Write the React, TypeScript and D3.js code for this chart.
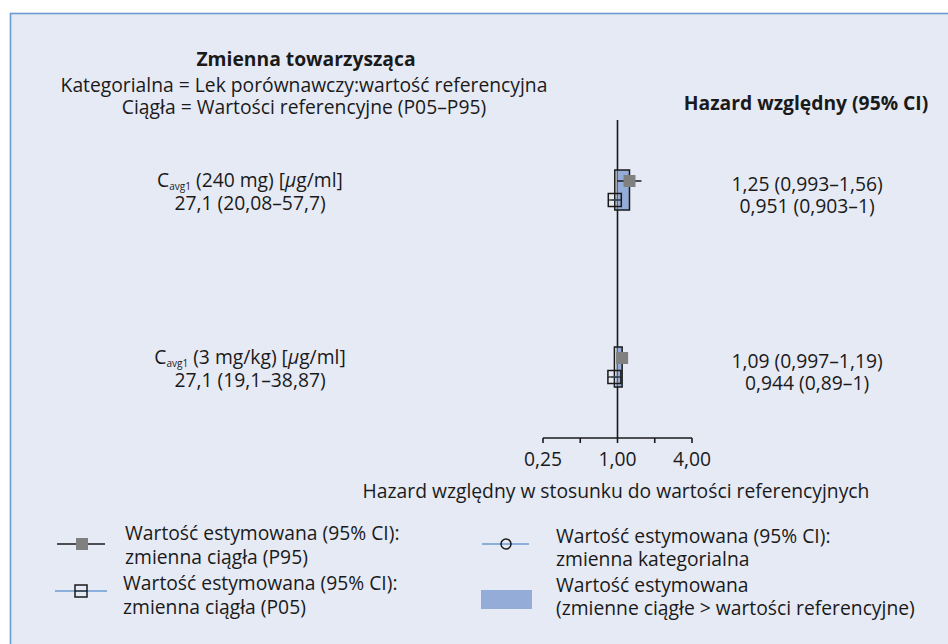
import React from "react";
import * as d3 from "d3";

const covariates = ["C_avg1 (240 mg) [µg/ml]", "C_avg1 (3 mg/kg) [µg/ml]"];
const covariateDose = ["(240 mg)", "(3 mg/kg)"];
const referenceRanges = ["27,1 (20,08–57,7)", "27,1 (19,1–38,87)"];
const hrP95 = [1.25, 1.09];
const ciP95Low = [0.993, 0.997];
const ciP95High = [1.56, 1.19];
const hrP05 = [0.951, 0.944];
const ciP05Low = [0.903, 0.89];
const ciP05High = [1.0, 1.0];
const hrP95Text = ["1,25 (0,993–1,56)", "1,09 (0,997–1,19)"];
const hrP05Text = ["0,951 (0,903–1)", "0,944 (0,89–1)"];
const tickValues = [0.25, 0.5, 1, 2, 4];
const tickLabels = ["0,25", "", "1,00", "", "4,00"];

const W = 948;
const H = 644;
const FONT = "'Open Sans', 'DejaVu Sans', sans-serif";
const FS = 19.3;
const BG = "#e6eaf5";
const FRAME = "#6f9ad0";
const BLUE_LINE = "#6b9bd1";
const BLUE_FILL = "#93add8";
const GREY = "#808080";
const DARK = "#1a1a1a";

export default function App() {
  const x = d3.scaleLog().base(2).domain([0.25, 4]).range([543, 692]);
  const y = d3.scalePoint<string>().domain(covariates).range([190, 367]);
  const axisY = 438;
  const x1 = x(1);

  return (
    <svg
      width={W}
      height={H}
      style={{ position: "absolute", left: 0, top: 0, display: "block" }}
      fontFamily={FONT}
    >
      <rect x={0} y={0} width={W} height={H} fill="#ffffff" />
      <rect x={10.5} y={13.5} width={W + 10} height={H + 10} fill={BG} stroke={FRAME} strokeWidth={1.6} />

      {/* headers */}
      <text x={306} y={66} textAnchor="middle" fontSize={FS} fontWeight="bold" fill={DARK}>
        Zmienna towarzysząca
      </text>
      <text x={304} y={92} textAnchor="middle" fontSize={FS} fill={DARK}>
        Kategorialna = Lek porównawczy:wartość referencyjna
      </text>
      <text x={304} y={114} textAnchor="middle" fontSize={FS} fill={DARK}>
        Ciągła = Wartości referencyjne (P05–P95)
      </text>
      <text x={806} y={110} textAnchor="middle" fontSize={FS} fontWeight="bold" fill={DARK}>
        Hazard względny (95% CI)
      </text>

      {/* reference line */}
      <line x1={x1} x2={x1} y1={120} y2={axisY} stroke={DARK} strokeWidth={1.6} />

      {covariates.map((c, i) => {
        const cy = y(c) as number;
        const yP95 = cy - 9;
        const yP05 = cy + 10;
        const rx0 = Math.min(x(hrP05[i]), x1);
        const rx1 = Math.max(x(hrP95[i]), x1);
        return (
          <g key={c}>
            {/* row labels */}
            <text x={250} y={cy - 3} textAnchor="middle" fontSize={FS} fill={DARK}>
              <tspan>C</tspan>
              <tspan fontSize={10} dy={3}>avg1</tspan>
              <tspan dy={-3}> {covariateDose[i]} [</tspan>
              <tspan fontStyle="italic">µ</tspan>
              <tspan>g/ml]</tspan>
            </text>
            <text x={250} y={cy + 20} textAnchor="middle" fontSize={FS} fill={DARK}>
              {referenceRanges[i]}
            </text>
            {/* HR text */}
            <text x={807} y={cy + 1} textAnchor="middle" fontSize={FS} fill={DARK}>
              {hrP95Text[i]}
            </text>
            <text x={807} y={cy + 23} textAnchor="middle" fontSize={FS} fill={DARK}>
              {hrP05Text[i]}
            </text>
            {/* estimate rectangle */}
            <rect x={x1} y={cy - 20} width={rx1 - x1} height={40} fill={BLUE_FILL} />
            <rect x={rx0} y={cy - 20} width={rx1 - rx0} height={40} fill="none" stroke={DARK} strokeWidth={1.5} />
            {/* P95 CI + square */}
            <line x1={x(ciP95Low[i])} x2={x(ciP95High[i])} y1={yP95} y2={yP95} stroke={DARK} strokeWidth={1.5} />
            <rect x={x(hrP95[i]) - 6} y={yP95 - 6} width={12} height={12} fill={GREY} />
            {/* P05 CI + open square */}
            <line x1={x(ciP05Low[i])} x2={x(ciP05High[i])} y1={yP05} y2={yP05} stroke={BLUE_LINE} strokeWidth={1.5} />
            <rect x={x(hrP05[i]) - 6.5} y={yP05 - 6.5} width={13} height={13} fill="none" stroke={DARK} strokeWidth={1.5} />
            <line x1={x(hrP05[i]) - 6.5} x2={x(hrP05[i]) + 6.5} y1={yP05} y2={yP05} stroke={DARK} strokeWidth={1.2} />
          </g>
        );
      })}

      {/* axis */}
      <line x1={x(0.25)} x2={x(4)} y1={axisY} y2={axisY} stroke={DARK} strokeWidth={1.6} />
      {tickValues.map((t, i) => (
        <g key={t}>
          <line x1={x(t)} x2={x(t)} y1={axisY} y2={axisY + 5} stroke={DARK} strokeWidth={1.6} />
          {tickLabels[i] && (
            <text x={x(t)} y={466} textAnchor="middle" fontSize={FS} fill={DARK}>
              {tickLabels[i]}
            </text>
          )}
        </g>
      ))}
      <text x={616} y={498} textAnchor="middle" fontSize={FS} fill={DARK}>
        Hazard względny w stosunku do wartości referencyjnych
      </text>

      {/* legend */}
      <line x1={57} x2={105} y1={544} y2={544} stroke={DARK} strokeWidth={1.5} />
      <rect x={76} y={538} width={12} height={12} fill={GREY} />
      <text x={125} y={540} fontSize={FS} fill={DARK}>Wartość estymowana (95% CI):</text>
      <text x={125} y={564} fontSize={FS} fill={DARK}>zmienna ciągła (P95)</text>

      <line x1={55} x2={107} y1={591} y2={591} stroke={BLUE_LINE} strokeWidth={1.5} />
      <rect x={75} y={585} width={12} height={12} fill="none" stroke={DARK} strokeWidth={1.5} />
      <line x1={75} x2={87} y1={591} y2={591} stroke={DARK} strokeWidth={1.2} />
      <text x={123} y={590} fontSize={FS} fill={DARK}>Wartość estymowana (95% CI):</text>
      <text x={123} y={614} fontSize={FS} fill={DARK}>zmienna ciągła (P05)</text>

      <line x1={482} x2={529} y1={544} y2={544} stroke={BLUE_LINE} strokeWidth={1.5} />
      <circle cx={506} cy={544} r={5} fill="none" stroke={DARK} strokeWidth={1.5} />
      <text x={556} y={543} fontSize={FS} fill={DARK}>Wartość estymowana (95% CI):</text>
      <text x={556} y={566} fontSize={FS} fill={DARK}>zmienna kategorialna</text>

      <rect x={481} y={590} width={51} height={19} fill={BLUE_FILL} />
      <text x={556} y={592} fontSize={FS} fill={DARK}>Wartość estymowana</text>
      <text x={556} y={615} fontSize={FS} fill={DARK}>(zmienne ciągłe &gt; wartości referencyjne)</text>
    </svg>
  );
}
